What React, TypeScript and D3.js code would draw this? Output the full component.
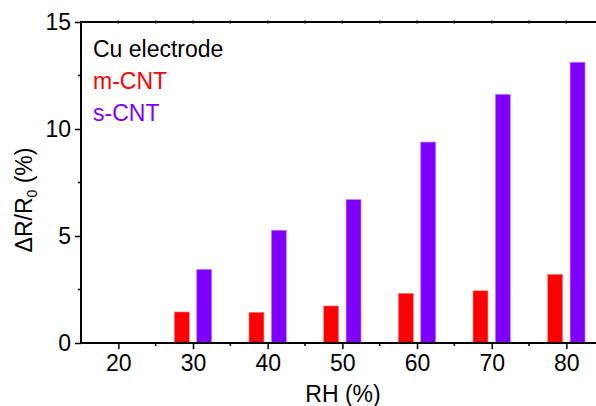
import React, { useEffect, useRef } from 'react';
import { select, scaleLinear, axisBottom, axisLeft, range } from 'd3';

const width = 596;
const height = 406;

// RH (%) and ΔR/R0 (%)
const humidity = [20, 30, 40, 50, 60, 70, 80];
const mCNT = [0, 1.45, 1.43, 1.73, 2.32, 2.44, 3.21];
const sCNT = [0, 3.44, 5.27, 6.70, 9.39, 11.62, 13.12];
const yTicks = [0, 5, 10, 15];
const legendLabels = ['Cu electrode', 'm-CNT', 's-CNT'];
const legendColors = ['#000000', '#ff0000', '#8000ff'];

const App = () => {
  const svgRef = useRef(null);

  useEffect(() => {
    document.body.style.margin = '0';
    const svg = select(svgRef.current);
    svg.selectAll('*').remove();

    const font = '"Liberation Sans", Arial, sans-serif';
    const fs = '23px';
    const left = 81, top = 22, bottom = 343;

    const x = scaleLinear().domain([15, 85]).range([left, left + 70 * 7.467]);
    const y = scaleLinear().domain([0, 15]).range([bottom, top]);

    // bars
    const data = humidity.map((h, i) => ({ h, m: mCNT[i], s: sCNT[i] }));
    const bars = svg.append('g');
    bars.selectAll('rect.m')
      .data(data.filter(d => d.m > 0))
      .join('rect')
        .attr('class', 'm')
        .attr('x', d => x(d.h - 2.5))
        .attr('width', d => x(d.h - 0.5) - x(d.h - 2.5))
        .attr('y', d => y(d.m))
        .attr('height', d => y(0) - y(d.m))
        .attr('fill', legendColors[1])
        .attr('stroke', '#ff8080')
        .attr('stroke-width', 0.6);
    bars.selectAll('rect.s')
      .data(data.filter(d => d.s > 0))
      .join('rect')
        .attr('class', 's')
        .attr('x', d => x(d.h + 0.5))
        .attr('width', d => x(d.h + 2.5) - x(d.h + 0.5))
        .attr('y', d => y(d.s))
        .attr('height', d => y(0) - y(d.s))
        .attr('fill', legendColors[2])
        .attr('stroke', '#c080ff')
        .attr('stroke-width', 0.6);

    // minor ticks
    const minor = svg.append('g').attr('stroke', '#000').attr('stroke-width', 1.5);
    minor.selectAll('line.mx')
      .data(range(25, 85, 10))
      .join('line')
        .attr('class', 'mx')
        .attr('x1', d => x(d)).attr('x2', d => x(d))
        .attr('y1', bottom).attr('y2', bottom + 3);
    minor.selectAll('line.my')
      .data([2.5, 7.5, 12.5])
      .join('line')
        .attr('class', 'my')
        .attr('x1', left - 3).attr('x2', left)
        .attr('y1', d => y(d)).attr('y2', d => y(d));
    minor.selectAll('line.tx')
      .data(range(20, 85, 5))
      .join('line')
        .attr('class', 'tx')
        .attr('x1', d => x(d)).attr('x2', d => x(d))
        .attr('y1', top - 1.5).attr('y2', top + 1.5);

    // top frame line
    svg.append('line')
      .attr('x1', left).attr('x2', width)
      .attr('y1', top).attr('y2', top)
      .attr('stroke', '#000').attr('stroke-width', 2);

    // axes
    const xAxis = svg.append('g')
      .attr('transform', `translate(0,${bottom})`)
      .call(axisBottom(x).tickValues(humidity).tickSize(6).tickPadding(6).tickSizeOuter(0));
    const yAxis = svg.append('g')
      .attr('transform', `translate(${left},0)`)
      .call(axisLeft(y).tickValues(yTicks).tickSize(6).tickPadding(4).tickSizeOuter(0));

    [xAxis, yAxis].forEach(g => {
      g.select('.domain').attr('stroke-width', 2);
      g.selectAll('.tick line').attr('stroke-width', 1.5);
      g.selectAll('.tick text')
        .style('font-family', font)
        .style('font-size', fs)
        .attr('fill', '#000');
    });
    xAxis.select('.domain').attr('d', `M${left},0H${width}`);
    yAxis.select('.domain').attr('d', `M0,${bottom + 1}V${top - 1}`);

    // axis titles
    svg.append('text')
      .attr('x', 343).attr('y', 402)
      .attr('text-anchor', 'middle')
      .style('font-family', font).style('font-size', fs)
      .text('RH (%)');

    const yl = svg.append('text')
      .attr('transform', 'translate(32,200) rotate(-90)')
      .attr('text-anchor', 'middle')
      .style('font-family', font).style('font-size', fs);
    yl.append('tspan').text('ΔR/R');
    yl.append('tspan').attr('dy', 5).style('font-size', '14px').text('0');
    yl.append('tspan').attr('dy', -5).text(' (%)');

    // legend
    svg.append('g')
      .selectAll('text')
      .data(legendLabels)
      .join('text')
        .attr('x', 93)
        .attr('y', (d, i) => 57 + i * 32)
        .attr('fill', (d, i) => legendColors[i])
        .style('font-family', font)
        .style('font-size', fs)
        .text(d => d);
  }, []);

  return (
    <svg ref={svgRef} width={width} height={height} style={{ display: 'block', background: '#fff' }} />
  );
};

export default App;
